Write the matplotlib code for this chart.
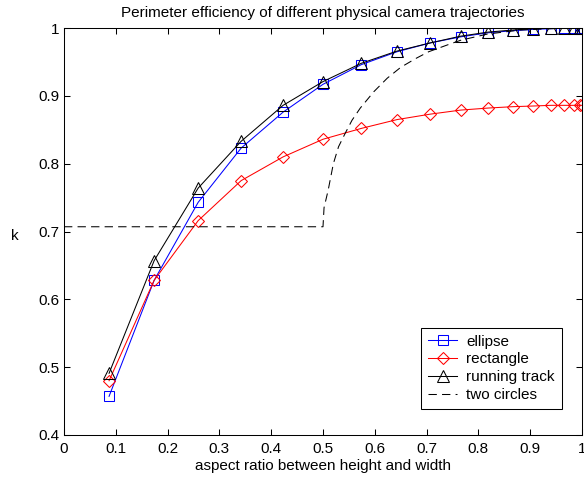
import matplotlib
matplotlib.use("Agg")
import matplotlib.pyplot as plt

plt.rcParams["font.family"] = ["Liberation Sans", "DejaVu Sans"]
plt.rcParams["font.size"] = 11

# aspect ratio (height / width) of each sample
ratio = [0.087, 0.174, 0.259, 0.342, 0.423, 0.500, 0.574, 0.643, 0.707,
         0.766, 0.819, 0.866, 0.906, 0.940, 0.966, 0.985, 0.996, 1.000]
ellipse = [0.457, 0.628, 0.743, 0.823, 0.876, 0.917, 0.946, 0.965, 0.978,
           0.987, 0.993, 0.996, 0.998, 0.999, 1.000, 1.000, 1.000, 1.000]
rectangle = [0.480, 0.628, 0.716, 0.775, 0.810, 0.836, 0.852, 0.865, 0.873,
             0.879, 0.882, 0.884, 0.885, 0.886, 0.886, 0.886, 0.886, 0.886]
track = [0.491, 0.657, 0.764, 0.833, 0.886, 0.921, 0.948, 0.966, 0.978,
         0.988, 0.994, 0.997, 0.999, 1.000, 1.000, 1.000, 1.000, 1.000]

# two circles curve
circ_x = [0.0, 0.500, 0.502, 0.510, 0.520, 0.530, 0.543, 0.556, 0.572, 0.598,
          0.624, 0.650, 0.679, 0.704, 0.740, 0.766, 0.817, 0.880, 0.940, 1.000]
circ_y = [0.707, 0.707, 0.735, 0.761, 0.800, 0.825, 0.845, 0.864, 0.882, 0.906,
          0.926, 0.942, 0.955, 0.965, 0.975, 0.982, 0.991, 0.997, 0.999, 1.000]

xticks = [0, 0.1, 0.2, 0.3, 0.4, 0.5, 0.6, 0.7, 0.8, 0.9, 1]
xlabels = ["0", "0.1", "0.2", "0.3", "0.4", "0.5", "0.6", "0.7", "0.8", "0.9", "1"]
yticks = [0.4, 0.5, 0.6, 0.7, 0.8, 0.9, 1]
ylabels = ["0.4", "0.5", "0.6", "0.7", "0.8", "0.9", "1"]

fig = plt.figure(figsize=(5.84, 4.82), dpi=100)
ax = fig.add_axes([64 / 584, 47 / 482, 518 / 584, 407 / 482])

lw = 0.75
ax.plot(ratio, ellipse, color="blue", lw=lw, marker="s", ms=7,
        mfc="none", mew=lw, label="ellipse")
ax.plot(ratio, rectangle, color="red", lw=lw, marker="D", ms=6.5,
        mfc="none", mew=lw, label="rectangle")
ax.plot(ratio, track, color="black", lw=lw, marker="^", ms=8,
        mfc="none", mew=lw, label="running track")
ax.plot(circ_x, circ_y, color="black", lw=lw, ls="--", dashes=(8, 5),
        label="two circles")

ax.set_xlim(0, 1)
ax.set_ylim(0.4, 1)
ax.set_xticks(xticks)
ax.set_xticklabels(xlabels)
ax.set_yticks(yticks)
ax.set_yticklabels(ylabels)
ax.tick_params(direction="in", top=True, right=True, length=4, width=0.75)
ax.tick_params(axis="x", pad=5)
ax.tick_params(axis="y", pad=3)
for s in ax.spines.values():
    s.set_linewidth(0.75)

ax.set_title("Perimeter efficiency of different physical camera trajectories",
             fontsize=11, pad=8)
ax.set_xlabel("aspect ratio between height and width", labelpad=2)
ax.set_ylabel("k", rotation=0, va="center", ha="center")
ax.yaxis.set_label_coords(-0.095, 0.49)

leg = ax.legend(loc="lower right", bbox_to_anchor=(0.961, 0.064), borderaxespad=0,
                fancybox=False, framealpha=1, edgecolor="black",
                handlelength=1.9, handletextpad=0.6, labelspacing=0.25,
                borderpad=0.45)
leg.get_frame().set_linewidth(0.75)

fig.savefig("out.png", dpi=100)
